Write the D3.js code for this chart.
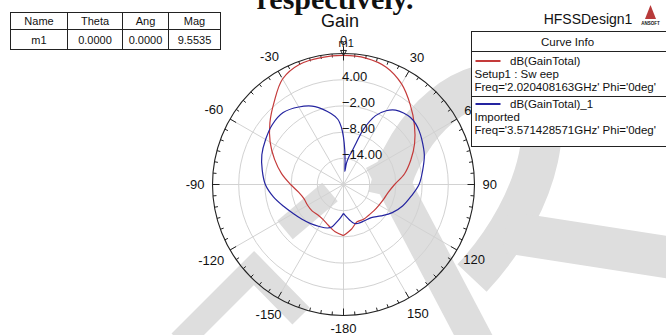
<!DOCTYPE html>
<html>
<head>
<meta charset="utf-8">
<script src="https://cdn.jsdelivr.net/npm/d3@7"></script>
<style>
  html, body { margin: 0; padding: 0; background: #fff; }
  svg { display: block; }
  text { font-family: "Liberation Sans", Arial, sans-serif; fill: #111; }
</style>
</head>
<body>
<div id="chart"></div>
<script>
// Data

const redTheta = [-180, -170, -160, -150, -140, -130, -120, -110, -100, -90, -80, -70, -60, -50, -40, -30, -20, -10,
  0, 10, 20, 30, 40, 50, 60, 70, 80, 90, 100, 110, 120, 130, 140, 150, 160, 170, 180]
const redGain = [-8.3, -9.0, -10.0, -10.7, -10.9, -10.6, -10.5, -10.4, -9.6, -7.9, -5.6, -3.2, -0.6, 2.0, 4.7, 7.9, 9.3, 9.5,
  9.55, 9.4, 8.6, 6.6, 3.8, 1.2, -1.2, -3.6, -5.8, -8.3, -9.6, -10.2, -10.6, -10.8, -10.9, -10.8, -10.9, -9.6, -8.3]

const blueTheta = [-180, -175, -170, -165, -160, -150, -140, -130, -120, -110, -100, -90, -80, -70, -60, -50, -40, -30,
  -20, -10, -5, -2, 0, 2, 4, 6, 8, 11, 14, 17, 20, 25, 30, 35, 40, 45, 50, 55, 60, 70, 80, 90, 100, 110, 120, 130,
  140, 150, 160, 165, 170, 175, 180]
const blueGain = [-13.4, -12.4, -11.3, -10.0, -9.4, -8.9, -8.3, -7.6, -6.7, -5.4, -3.7, -2.1, -1.1, -0.1, 0.6, 1.3, 1.5, 0.5,
  -1.0, -3.5, -5.0, -7.0, -9.2, -12.0, -14.8, -17.0, -15.0, -13.5, -12.3, -10.0, -6.5, -2.6, -0.5, 0.8, 1.4, 1.7, 1.6, 1.2,
  0.7, -0.3, -1.6, -2.7, -4.3, -5.6, -7.1, -8.8, -10.1, -10.4, -10.5, -10.8, -11.7, -12.6, -13.4]

const radialDomain = [-20, 10]
const ringTicks = [-14, -8, -2, 4]
const angleTicks = [-180, -150, -120, -90, -60, -30, 0, 30, 60, 90, 120, 150]

const tableHeaders = ['Name', 'Theta', 'Ang', 'Mag']
const tableRow = ['m1', '0.0000', '0.0000', '9.5535']

const legendNames = ['dB(GainTotal)', 'dB(GainTotal)_1']
const legendSetup = ['Setup1 : Sw eep', 'Imported']
const legendFreq = ["Freq='2.020408163GHz' Phi='0deg'", "Freq='3.571428571GHz' Phi='0deg'"]
const colors = ['#c43a3a', '#2424a0']

// Layout

const W = 666, H = 335
const cx = 343.5, cy = 184.5, R = 131

const svg = d3.select('#chart').append('svg')
  .attr('width', W).attr('height', H)

svg.append('rect').attr('width', W).attr('height', H).attr('fill', '#fff')

// faint logo watermark behind the plot
const wm = svg.append('g')
  .attr('fill', 'none').attr('stroke', '#dedede')
  .attr('stroke-linejoin', 'miter').attr('stroke-linecap', 'butt')
wm.append('path').attr('d', 'M381,160 L480,348').attr('stroke-width', 34)
wm.append('path').attr('d', 'M388,196 C405,120 470,70 520,85 C560,100 545,200 472,278').attr('stroke-width', 40)
wm.append('path').attr('d', 'M505,232 L672,258').attr('stroke-width', 42)
wm.append('path').attr('d', 'M285,230 L330,192').attr('stroke-width', 24)
wm.append('path').attr('d', 'M180,342 L254,268 L301,316').attr('stroke-width', 24)

const r = d3.scaleLinear().domain(radialDomain).range([0, R])
const rad = (d) => (d * Math.PI) / 180

const g = svg.append('g').attr('transform', `translate(${cx},${cy})`)

// grid rings and spokes
g.selectAll('.ring').data(ringTicks).enter().append('circle')
  .attr('r', (d) => r(d))
  .attr('fill', 'none').attr('stroke', '#d2d2d2').attr('stroke-width', 1)

g.selectAll('.spoke').data(angleTicks).enter().append('line')
  .attr('x1', 0).attr('y1', 0)
  .attr('x2', (d) => R * Math.sin(rad(d)))
  .attr('y2', (d) => -R * Math.cos(rad(d)))
  .attr('stroke', '#d2d2d2').attr('stroke-width', 1)

// outer circle and ticks
g.append('circle').attr('r', R).attr('fill', 'none').attr('stroke', '#222').attr('stroke-width', 1.1)

const minor = d3.range(-180, 180, 5)
g.selectAll('.tick').data(minor).enter().append('line')
  .attr('x1', (d) => R * Math.sin(rad(d)))
  .attr('y1', (d) => -R * Math.cos(rad(d)))
  .attr('x2', (d) => (R - (d % 30 === 0 ? 7 : 3.5)) * Math.sin(rad(d)))
  .attr('y2', (d) => -(R - (d % 30 === 0 ? 7 : 3.5)) * Math.cos(rad(d)))
  .attr('stroke', '#222').attr('stroke-width', 1)

// curves
const line = d3.lineRadial()
  .angle((d) => rad(d[0]))
  .radius((d) => r(d[1]))
  .curve(d3.curveCatmullRom.alpha(0.5))

const series = [
  d3.zip(redTheta, redGain),
  d3.zip(blueTheta, blueGain),
]
g.selectAll('.curve').data(series).enter().append('path')
  .attr('d', line)
  .attr('fill', 'none')
  .attr('stroke', (d, i) => colors[i])
  .attr('stroke-width', 1.2)

// ring labels
g.selectAll('.rlab').data(ringTicks).enter().append('text')
  .attr('x', -1.5)
  .attr('y', (d) => -r(d) + 1)
  .attr('font-size', 13)
  .text((d) => d3.format('.2f')(d))

// angle labels
const alab = g.selectAll('.alab').data(angleTicks).enter().append('text')
  .attr('font-size', 13)
  .attr('text-anchor', 'middle')
  .attr('dominant-baseline', 'central')
  .text((d) => String(d))
alab.each(function (d) {
  const w = this.getComputedTextLength()
  const a = rad(d)
  const rr = 139 + (w / 2) * Math.abs(Math.sin(a)) + 5 * Math.abs(Math.cos(a))
  d3.select(this).attr('x', rr * Math.sin(a)).attr('y', -rr * Math.cos(a))
})

// marker m1
const mTheta = +tableRow[1], mMag = +tableRow[3]
const mx = r(mMag) * Math.sin(rad(mTheta)), my = -r(mMag) * Math.cos(rad(mTheta))
g.append('path')
  .attr('d', `M${mx},${my} L${mx - 3},${my - 5} L${mx + 3},${my - 5} Z`)
  .attr('fill', 'none').attr('stroke', '#222').attr('stroke-width', 1)
g.append('line').attr('x1', mx).attr('x2', mx).attr('y1', my - 9).attr('y2', my + 2)
  .attr('stroke', '#222').attr('stroke-width', 1)
g.append('text').attr('x', mx - 5).attr('y', my - 8).attr('font-size', 11).text(tableRow[0])

// legend
const lg = svg.append('g').attr('transform', 'translate(471.5,31.5)')
lg.append('rect').attr('width', 200).attr('height', 115).attr('fill', '#fff').attr('stroke', '#222')
lg.append('line').attr('x1', 0).attr('x2', 200).attr('y1', 20).attr('y2', 20).attr('stroke', '#222')
lg.append('line').attr('x1', 0).attr('x2', 200).attr('y1', 65).attr('y2', 65).attr('stroke', '#222')
lg.append('text').attr('x', 96).attr('y', 14.5).attr('text-anchor', 'middle').attr('font-size', 11.5).text('Curve Info')
legendNames.forEach((name, i) => {
  const y0 = 29.5 + i * 43
  lg.append('line').attr('x1', 4).attr('x2', 29).attr('y1', y0).attr('y2', y0)
    .attr('stroke', colors[i]).attr('stroke-width', 2)
  lg.append('text').attr('x', 38.5).attr('y', y0 + 4).attr('font-size', 11.5).text(name)
  lg.append('text').attr('x', 3).attr('y', y0 + 16.5).attr('font-size', 11.5).text(legendSetup[i])
  lg.append('text').attr('x', 3).attr('y', y0 + 29.5).attr('font-size', 11.5).text(legendFreq[i])
})

// marker table
const colEdges = [10.5, 67.5, 122.5, 168.5, 220.5]
const tb = svg.append('g')
tb.append('rect').attr('x', 10.5).attr('y', 12.5).attr('width', 210).attr('height', 37)
  .attr('fill', '#fff').attr('stroke', '#222')
tb.append('line').attr('x1', 10.5).attr('x2', 220.5).attr('y1', 29.5).attr('y2', 29.5).attr('stroke', '#222')
tb.selectAll('.col').data(colEdges.slice(1, -1)).enter().append('line')
  .attr('x1', (d) => d).attr('x2', (d) => d).attr('y1', 12.5).attr('y2', 49.5).attr('stroke', '#222')
tb.selectAll('.hd').data(tableHeaders).enter().append('text')
  .attr('x', (d, i) => (colEdges[i] + colEdges[i + 1]) / 2).attr('y', 25)
  .attr('text-anchor', 'middle').attr('font-size', 11).text((d) => d)
tb.selectAll('.rw').data(tableRow).enter().append('text')
  .attr('x', (d, i) => (colEdges[i] + colEdges[i + 1]) / 2).attr('y', 44)
  .attr('text-anchor', 'middle').attr('font-size', 11).text((d) => d)

// titles
svg.append('text').attr('x', 335).attr('y', 9)
  .attr('text-anchor', 'middle').attr('font-size', 30).attr('font-weight', 'bold')
  .style('font-family', '"Liberation Serif", "Times New Roman", serif')
  .text('respectively.')
svg.append('text').attr('x', 340).attr('y', 27).attr('text-anchor', 'middle').attr('font-size', 18).text('Gain')
svg.append('text').attr('x', 588).attr('y', 24).attr('text-anchor', 'middle').attr('font-size', 14).text('HFSSDesign1')

// small vendor logo
svg.append('path').attr('d', 'M645,19 L650.5,5 L656,19 Z').attr('fill', '#b83a3a')
svg.append('text').attr('x', 650.5).attr('y', 24.5).attr('text-anchor', 'middle')
  .attr('font-size', 4.5).attr('font-weight', 'bold').text('ANSOFT')
</script>
</body>
</html>
